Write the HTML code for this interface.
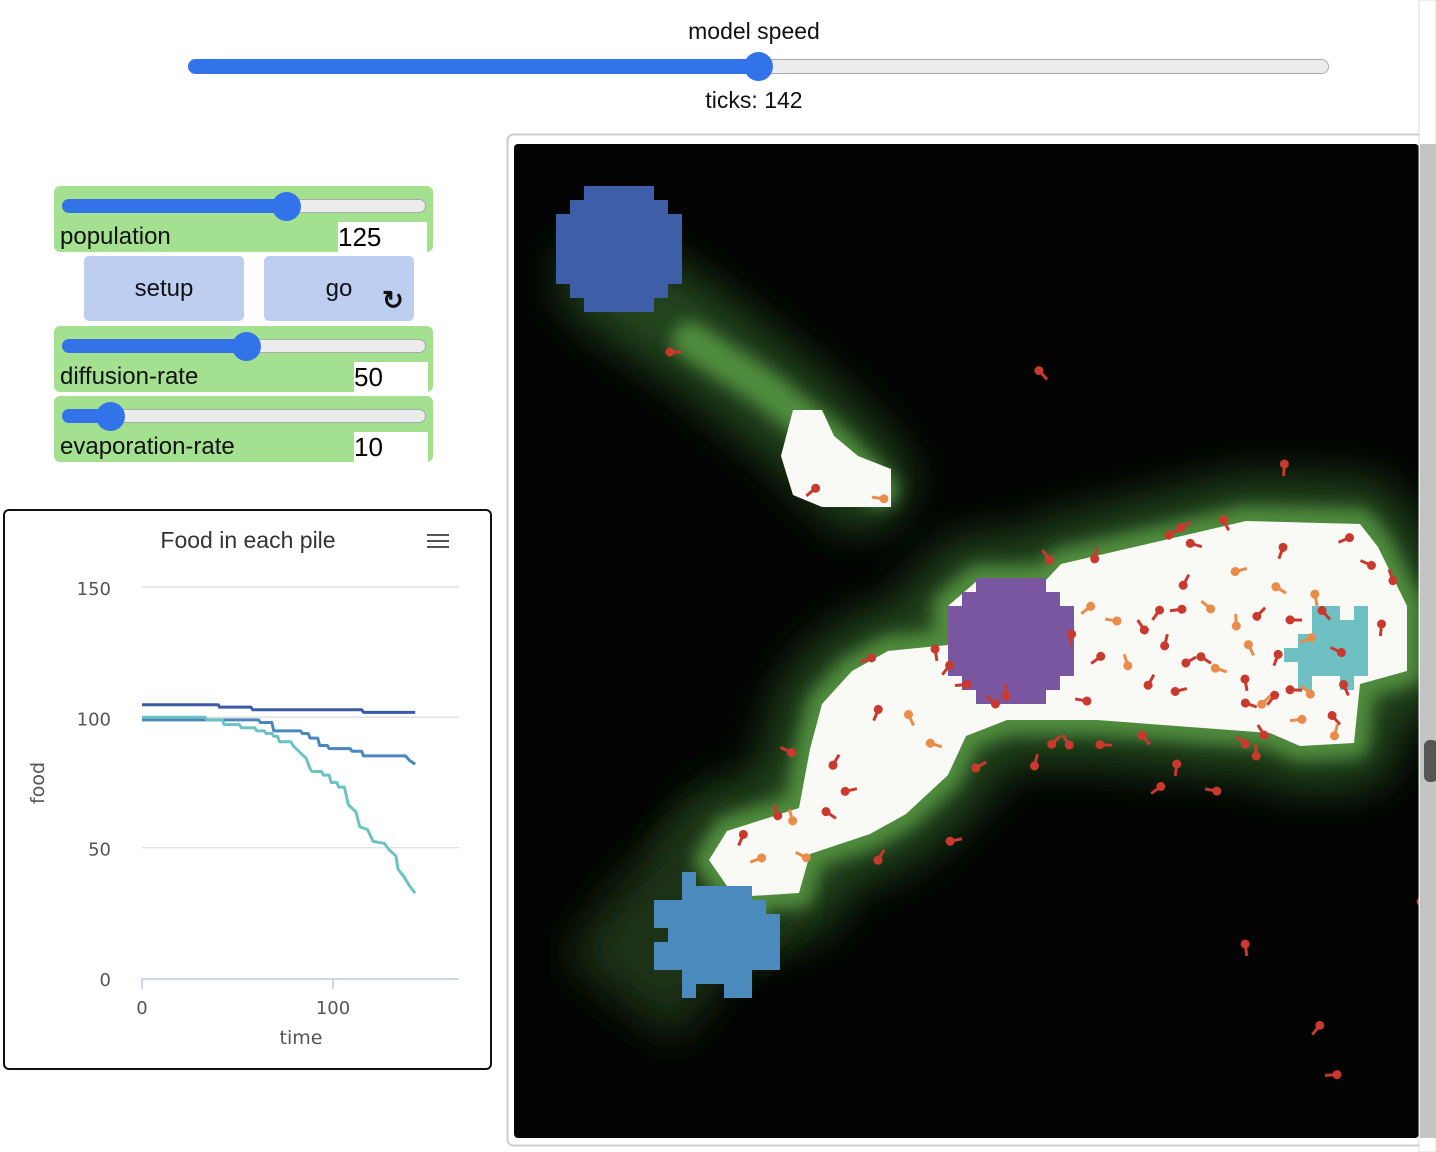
<!DOCTYPE html>
<html><head><meta charset="utf-8"><style>
body{margin:0;width:1436px;height:1152px;background:#fff;position:relative;overflow:hidden;font-family:"Liberation Sans",sans-serif;}
.abs{position:absolute}
.widget{position:absolute;left:54px;width:379px;height:66px;background:#a3e08f;border-radius:6px}
.track{position:absolute;left:8px;top:13px;width:364px;height:14px;border-radius:7px;background:#ececec;border:1px solid #aaa;box-sizing:border-box}
.fill{position:absolute;left:8px;top:13px;height:14px;border-radius:7px;background:#3273ea}
.thumb{position:absolute;top:6px;width:29px;height:29px;border-radius:50%;background:#3273ea}
.lbl{position:absolute;left:6px;top:37px;font-size:24px;color:#111}
.val{position:absolute;top:36px;height:30px;right:5px;background:#fff;font-size:26px;line-height:30px;color:#000}
.btn{position:absolute;top:256px;height:65px;background:#bdcef1;border-radius:5px;font-size:24px;text-align:center;line-height:65px;color:#111}
</style></head><body>
<div class="abs" style="left:654px;top:18px;width:200px;text-align:center;font-size:23px;color:#111">model speed</div>
<div class="abs" style="left:188px;top:59px;width:1141px;height:15px;border-radius:8px;background:#ececec;border:1px solid #aaa;box-sizing:border-box"></div>
<div class="abs" style="left:188px;top:59px;width:575px;height:15px;border-radius:8px;background:#3273ea"></div>
<div class="abs" style="left:744px;top:52px;width:29px;height:29px;border-radius:50%;background:#3273ea"></div>
<div class="abs" style="left:654px;top:87px;width:200px;text-align:center;font-size:23px;color:#111">ticks: 142</div>

<div class="widget" style="top:186px">
<div class="track"></div><div class="fill" style="width:230px"></div><div class="thumb" style="left:218px"></div>
<div class="lbl">population</div><div class="val" style="width:89px;left:284px">125</div></div>
<div class="btn" style="left:84px;width:160px">setup</div>
<div class="btn" style="left:264px;width:150px">go<span style="position:absolute;left:118px;top:12px;font-size:26px;font-weight:bold">↻</span></div>
<div class="widget" style="top:326px">
<div class="track"></div><div class="fill" style="width:190px"></div><div class="thumb" style="left:178px"></div>
<div class="lbl">diffusion-rate</div><div class="val" style="width:74px;left:300px">50</div></div>
<div class="widget" style="top:396px">
<div class="track"></div><div class="fill" style="width:55px"></div><div class="thumb" style="left:42px"></div>
<div class="lbl">evaporation-rate</div><div class="val" style="width:74px;left:300px">10</div></div>

<div class="abs" style="left:3px;top:509px;width:485px;height:557px;border:2px solid #111;border-radius:6px">
<svg id="chart" width="489" height="561" style="position:absolute;left:-2px;top:-2px;overflow:visible" viewBox="3 509 489 561"></svg></div>

<svg class="abs" style="left:0;top:0" width="1436" height="1152" id="world">
<rect x="507.5" y="134.5" width="940" height="1011" rx="6" fill="#fff" stroke="#ccc" stroke-width="2"/>
<rect x="514" y="144" width="905" height="994" rx="4" fill="#020302"/>
<defs><filter id="b1" x="-50%" y="-50%" width="200%" height="200%"><feGaussianBlur stdDeviation="22"/></filter>
<filter id="b2" x="-50%" y="-50%" width="200%" height="200%"><feGaussianBlur stdDeviation="8"/></filter>
<clipPath id="wc"><rect x="514" y="144" width="905" height="994"/></clipPath></defs>
<g clip-path="url(#wc)">
<g>
<polyline points="610,280 700,340 800,420 860,480" fill="none" stroke="#23441c" stroke-width="100" filter="url(#b1)" stroke-linecap="round"/>
<polyline points="690,340 760,385 830,440 880,490" fill="none" stroke="#4f8c3d" stroke-width="36" filter="url(#b2)" stroke-linecap="round"/>
<polygon points="1046,580 1061,564 1246,521 1360,524 1378,547 1407,606 1407,671 1360,684 1354,743 1300,746 1270,733 1097,720 1007,720 966,736 948,775 906,814 870,834 810,854 799,893 751,896 751,912 727,886 709,860 727,831 799,808 810,749 822,704 852,671 888,651 948,645 948,606 978,580" fill="#23441c" stroke="#23441c" stroke-width="90" stroke-linejoin="round" filter="url(#b1)"/>
<polyline points="620,1000 680,920 760,850" fill="none" stroke="#1a3116" stroke-width="140" filter="url(#b1)"/>
<polygon points="1046,580 1061,564 1246,521 1360,524 1378,547 1407,606 1407,671 1360,684 1354,743 1300,746 1270,733 1097,720 1007,720 966,736 948,775 906,814 870,834 810,854 799,893 751,896 751,912 727,886 709,860 727,831 799,808 810,749 822,704 852,671 888,651 948,645 948,606 978,580" fill="#5e9e4a" stroke="#4f8c3d" stroke-width="30" stroke-linejoin="round" filter="url(#b2)"/>
</g>
<polygon points="1046,580 1061,564 1246,521 1360,524 1378,547 1407,606 1407,671 1360,684 1354,743 1300,746 1270,733 1097,720 1007,720 966,736 948,775 906,814 870,834 810,854 799,893 751,896 751,912 727,886 709,860 727,831 799,808 810,749 822,704 852,671 888,651 948,645 948,606 978,580" fill="#f9f9f6"/>
<polygon points="793,410 822,410 834,436 858,456 891,469 891,507 822,507 793,495 781,456" fill="#f9f9f6"/>
<polygon fill="#3f5ea8" points="584,186 654,186 654,200 668,200 668,214 682,214 682,284 668,284 668,298 654,298 654,312 584,312 584,298 570,298 570,284 556,284 556,214 570,214 570,200 584,200"/>
<polygon fill="#7a55a0" points="976,578 1046,578 1046,592 1060,592 1060,606 1074,606 1074,676 1060,676 1060,690 1046,690 1046,704 976,704 976,690 962,690 962,676 948,676 948,606 962,606 962,592 976,592"/>
<polygon fill="#6fc0c2" points="1312,606 1340,606 1340,620 1354,620 1354,606 1368,606 1368,676 1354,676 1354,690 1340,690 1340,676 1312,676 1312,690 1298,690 1298,662 1284,662 1284,648 1298,648 1298,634 1312,634"/>
<polygon fill="#4a8abd" points="682,872 696,872 696,886 752,886 752,900 766,900 766,914 780,914 780,970 752,970 752,998 724,998 724,984 696,984 696,998 682,998 682,970 654,970 654,942 668,942 668,928 654,928 654,900 682,900"/>
<g id="ants"></g>
</g>
<rect x="1419" y="0" width="17" height="1152" fill="#fff" stroke="#ddd"/>
<rect x="1420" y="144" width="16" height="994" fill="#c4c4c4"/>
<rect x="1424" y="740" width="14" height="42" rx="6" fill="#555"/>
</svg>

<script>
const NS="http://www.w3.org/2000/svg";
// chart data
const yTicks=[0,50,100,150];
const xTicks=[0,100];
const pile1T=[0,40,40.5,57,58,115,116,143];
const pile1V=[104.8,104.8,103.9,103.9,102.9,102.9,101.9,101.9];
const pile2T=[0,61,62,68,69,83,84,87,88,92,93,97,98,109,110,115,116,138,140,143];
const pile2V=[99,99,98,98,94.8,94.8,93.8,93.8,92,92,89.2,89.2,88,88,87,87,85.2,85.2,83.5,82];
const pile3T=[0,33,34,42,43,51,52,59,60,64,65,68,69,71,72,78,79,84,86,88,89,94,95,98,99,102,103,106,108,112,114,118,121,127,129,133,134,137,140,143];
const pile3V=[100,100,99,99,97.2,97.2,96,96,94.8,94.8,93.8,93.8,92.7,92.7,90.6,90.6,89.2,85.6,84.2,80.2,79.2,79.2,77.8,77.8,75,75,73.2,73.2,66.5,63.7,58,57,52.4,51.6,49.5,46.7,41.8,39,35.4,32.6];
const xS=t=>142+t*1.91, yS=v=>978-v*2.607;
const c=document.getElementById('chart');
function mk(tag,attrs,parent){const e=document.createElementNS(NS,tag);for(const k in attrs)e.setAttribute(k,attrs[k]);(parent||c).appendChild(e);return e;}
let t=mk('text',{x:248,y:548,'text-anchor':'middle','font-size':23,fill:'#333','font-family':'Liberation Sans, DejaVu Sans, sans-serif'});t.textContent='Food in each pile';


const menu=mk('g',{});


[534,540,546].forEach(y=>mk('rect',{x:427,y:y,width:22,height:2,fill:'#555'},menu));
yTicks.forEach(v=>{
  if(v>0){const g=mk('line',{x1:142,x2:459,y1:yS(v),y2:yS(v),stroke:'#e2e2e2','stroke-width':1.5});
  
  }
  const l=mk('text',{x:111,y:yS(v)+8,'text-anchor':'end','font-size':18,fill:'#555','font-family':'DejaVu Sans, sans-serif'});l.textContent=v;
  
  
});
const ax=mk('line',{x1:141,x2:459,y1:979,y2:979,stroke:'#ccd6eb','stroke-width':2});


xTicks.forEach(v=>{
  const tk=mk('line',{x1:xS(v),x2:xS(v),y1:979,y2:989,stroke:'#ccd6eb','stroke-width':2});
  
  
  const l=mk('text',{x:xS(v),y:1014,'text-anchor':'middle','font-size':18,fill:'#555','font-family':'DejaVu Sans, sans-serif'});l.textContent=v;
  
  
});
let xt=mk('text',{x:301,y:1044,'text-anchor':'middle','font-size':19,fill:'#555','font-family':'DejaVu Sans, sans-serif'});xt.textContent='time';


let yt=mk('text',{x:0,y:0,'text-anchor':'middle','font-size':19,fill:'#555','font-family':'DejaVu Sans, sans-serif',transform:'translate(44,783) rotate(-90)'});yt.textContent='food';


[[pile1T,pile1V,'#3b5aa6','series-pile-1'],[pile2T,pile2V,'#4a87bd','series-pile-2'],[pile3T,pile3V,'#6cc3c1','series-pile-3']].forEach(s=>{
  const pts=s[0].map((tt,i)=>xS(tt)+','+yS(s[1][i])).join(' ');
  const p=mk('polyline',{points:pts,fill:'none',stroke:s[2],'stroke-width':3,'stroke-linejoin':'round'});
  
  
});
// ants
const antX=[670,1037,1278,805,872,1040,1090,1168,1190,1220,1275,1338,1360,1385,1180,1235,1275,1310,1150,1170,1200,1230,1255,1290,1320,1375,1080,1105,1135,1160,1185,1215,1245,1270,1300,1330,1120,1145,1175,1200,1240,1265,1290,1235,1250,1260,1290,1330,1065,1090,1075,1060,1030,975,930,905,870,860,780,770,830,845,825,930,940,955,985,1000,1050,1100,1140,1170,1150,1205,1255,1330,1180,1245,1340,735,750,795,785,875,950,1420,1240,1310,1325,1300];
const antY=[352,375,470,492,498,555,553,532,545,525,553,540,563,575,580,570,590,600,615,610,605,620,612,620,615,630,610,620,625,640,660,670,650,660,640,650,660,680,690,660,685,700,720,740,750,700,690,720,640,660,700,740,760,765,745,720,715,660,750,810,760,790,815,655,670,685,700,690,740,745,740,770,790,790,730,730,525,705,690,840,860,855,815,855,840,905,950,1030,1075,690];
const antC=['r','r','r','r','o','r','r','r','r','r','r','r','r','r','r','o','o','o','r','r','o','o','r','r','r','r','o','o','r','r','r','o','o','r','o','r','o','r','r','r','r','r','o','r','r','o','r','r','r','r','r','r','r','r','o','o','r','r','r','r','r','r','r','r','r','r','r','r','r','r','r','r','r','r','r','o','r','r','r','r','o','o','o','r','r','r','r','r','r','o'];
const ag=document.getElementById('ants');
antX.forEach((x,i)=>{
  const col=antC[i]==='o'?'#e98c4a':'#c9392e';
  const g=mk('g',{},ag);
  
  
  const a=(i*47)%360;
  mk('line',{x1:x,y1:antY[i],x2:x+12,y2:antY[i],stroke:col,'stroke-width':3,transform:`rotate(${a} ${x+6} ${antY[i]})`},g);
  mk('circle',{cx:x,cy:antY[i],r:4.5,fill:col,transform:`rotate(${a} ${x+6} ${antY[i]})`},g);
});
</script>
</body></html>
